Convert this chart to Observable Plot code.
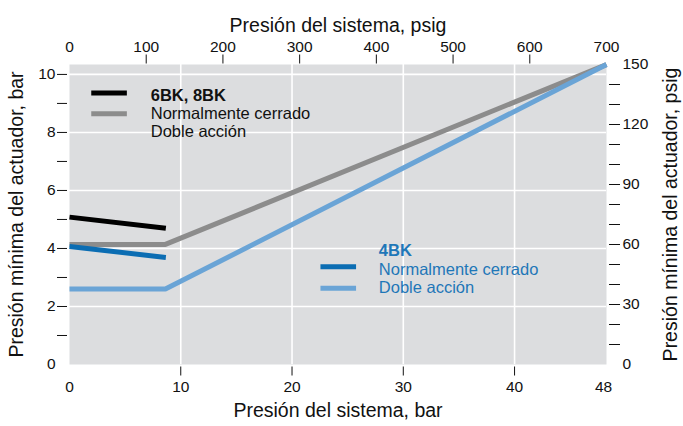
<!DOCTYPE html>
<html><head><meta charset="utf-8">
<script src="https://cdn.jsdelivr.net/npm/d3@7"></script>
<script src="https://cdn.jsdelivr.net/npm/@observablehq/plot@0.6"></script>
<style>body{margin:0;background:#fff}</style>
</head><body><div id="chart"></div>
<script>
const PSI = 14.5038;
// series (bar units)
const bk68NcX = [0, 8.66];
const bk68NcY = [5.08, 4.70];
const bk68DaX = [0, 8.62, 48.26];
const bk68DaY = [4.14, 4.14, 10.34];
const bk4NcX = [0, 8.66];
const bk4NcY = [4.07, 3.69];
const bk4DaX = [0, 8.62, 48.26];
const bk4DaY = [2.6, 2.6, 10.34];
// ticks
const barTicksX = [0, 10, 20, 30, 40, 48];
const barMarksX = [10, 20, 30, 40];
const psigTicksX = [0, 100, 200, 300, 400, 500, 600, 700];
const psigMarksX = [100, 200, 300, 400, 500, 600];
const barTicksY = [0, 2, 4, 6, 8, 10];
const barMarksY = [1, 2, 3, 4, 5, 6, 7, 8, 9, 10];
const psigTicksY = [0, 30, 60, 90, 120, 150];
const psigMarksY = [10, 20, 30, 40, 50, 60, 70, 80, 90, 100, 110, 120, 130, 140];
// texts
const titleTop = "Presión del sistema, psig";
const titleBottom = "Presión del sistema, bar";
const titleLeft = "Presión mínima del actuador, bar";
const titleRight = "Presión mínima del actuador, psig";
const legend1Head = "6BK, 8BK";
const legend1Items = ["Normalmente cerrado", "Doble acción"];
const legend2Head = "4BK";
const legend2Items = ["Normalmente cerrado", "Doble acción"];

const C = {bg: "#dcdddf", black: "#000000", gray: "#8c8c8c", dark: "#0b6db3", light: "#6aa4d6", text: "#1f77b8"};
const pts = (xs, ys) => xs.map((x, i) => ({x, y: ys[i]}));
const toBar = p => p / PSI;
const font = "Liberation Sans, Arial, Helvetica, sans-serif";

const lw = 5;
const tfs = 19.5;
const chart = Plot.plot({
  width: 683, height: 426,
  marginLeft: 69, marginRight: 77, marginTop: 64, marginBottom: 62,
  style: {fontFamily: font, fontSize: "15.5px", color: "#111", background: "#fff"},
  x: {domain: [0, 700 / PSI]},
  y: {domain: [0, 150 / PSI]},
  marks: [
    Plot.frame({fill: C.bg, stroke: null}),
    Plot.gridX(barMarksX, {stroke: "#fff", strokeOpacity: 1, strokeWidth: 1.6}),
    Plot.gridY([2, 4, 6, 8, 10], {stroke: "#fff", strokeOpacity: 1, strokeWidth: 1.6}),
    // bottom axis (bar)
    Plot.axisX(barMarksX, {anchor: "bottom", tickSize: 9, dy: 2.5, tickFormat: () => "", label: null}),
    Plot.axisX(barTicksX, {anchor: "bottom", tickSize: 0, tickPadding: 16, tickFormat: d => String(d), label: null}),
    // top axis (psig)
    Plot.axisX(psigMarksX.map(toBar), {anchor: "top", tickSize: 9, dy: -1.5, tickFormat: () => "", label: null}),
    Plot.axisX(psigTicksX.map(toBar), {anchor: "top", tickSize: 0, tickPadding: 13, tickFormat: d => String(Math.round(d * PSI)), label: null}),
    // left axis (bar)
    Plot.axisY(barMarksY, {anchor: "left", tickSize: 10, dx: -2, tickFormat: () => "", label: null}),
    Plot.axisY(barTicksY, {anchor: "left", tickSize: 0, tickPadding: 14, tickFormat: d => String(d), label: null}),
    // right axis (psig)
    Plot.axisY(psigMarksY.map(toBar), {anchor: "right", tickSize: 11, dx: 2, tickFormat: () => "", label: null}),
    Plot.axisY(psigTicksY.map(toBar), {anchor: "right", tickSize: 0, tickPadding: 16, tickFormat: d => String(Math.round(d * PSI)), label: null}),
    // titles
    Plot.text([titleTop], {text: d => d, frameAnchor: "top", dy: -46, fontSize: tfs, textAnchor: "middle"}),
    Plot.text([titleBottom], {text: d => d, frameAnchor: "bottom", dy: 52, fontSize: tfs, textAnchor: "middle"}),
    Plot.text([titleLeft], {text: d => d, frameAnchor: "left", dx: -53, rotate: -90, fontSize: tfs, textAnchor: "middle"}),
    Plot.text([titleRight], {text: d => d, frameAnchor: "right", dx: 64, rotate: -90, fontSize: tfs, textAnchor: "middle"}),
    // series
    Plot.line(pts(bk68DaX, bk68DaY), {x: "x", y: "y", stroke: C.gray, strokeWidth: lw, strokeLinecap: "butt", strokeLinejoin: "miter"}),
    Plot.line(pts(bk68NcX, bk68NcY), {x: "x", y: "y", stroke: C.black, strokeWidth: lw, strokeLinecap: "butt"}),
    Plot.line(pts(bk4DaX, bk4DaY), {x: "x", y: "y", stroke: C.light, strokeWidth: lw, strokeLinecap: "butt", strokeLinejoin: "miter"}),
    Plot.line(pts(bk4NcX, bk4NcY), {x: "x", y: "y", stroke: C.dark, strokeWidth: lw, strokeLinecap: "butt"}),
    // legend 1
    Plot.ruleY([9.36], {x1: 2.0, x2: 5.2, stroke: C.black, strokeWidth: lw}),
    Plot.ruleY([8.64], {x1: 2.0, x2: 5.2, stroke: C.gray, strokeWidth: lw}),
    Plot.text([legend1Head], {x: 7.3, y: 9.27, text: d => d, textAnchor: "start", fontSize: 16.5, fontWeight: "bold", fill: "#111"}),
    Plot.text(legend1Items, {x: 7.3, y: (d, i) => [8.66, 8.01][i], text: d => d, textAnchor: "start", fontSize: 16.5, fill: "#111"}),
    // legend 2
    Plot.ruleY([3.37], {x1: 22.6, x2: 25.8, stroke: C.dark, strokeWidth: lw}),
    Plot.ruleY([2.63], {x1: 22.6, x2: 25.8, stroke: C.light, strokeWidth: lw}),
    Plot.text([legend2Head], {x: 27.8, y: 3.91, text: d => d, textAnchor: "start", fontSize: 16.5, fontWeight: "bold", fill: C.text}),
    Plot.text(legend2Items, {x: 27.8, y: (d, i) => [3.28, 2.66][i], text: d => d, textAnchor: "start", fontSize: 16.5, fill: C.text})
  ]
});
document.getElementById("chart").appendChild(chart);
</script>
</body></html>
